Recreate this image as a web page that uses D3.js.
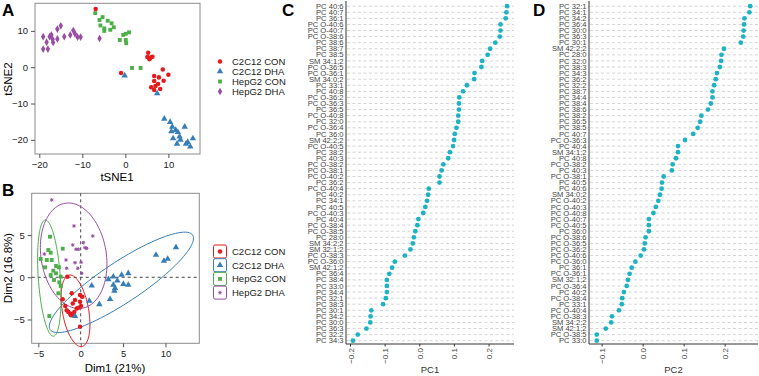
<!DOCTYPE html>
<html>
<head>
<meta charset="utf-8">
<script src="https://cdn.jsdelivr.net/npm/d3@7"></script>
<style>
  body { margin: 0; background: #fff; }
  svg { font-family: "Liberation Sans", Arial, sans-serif; }
</style>
</head>
<body>
<svg id="svg"></svg>
<script>
// groups + colours
const groups = ["C2C12 CON", "C2C12 DHA", "HepG2 CON", "HepG2 DHA"];
const colors = ["#E41A1C", "#377EB8", "#4DAF4A", "#984EA3"];

// panel A: tSNE coordinates [tSNE1, tSNE2]
const tsneC2C12CON = [[-6.9,16.0],[-1.0,-1.6],[5.3,4.0],[5.1,2.8],[5.9,2.7],[5.6,2.2],[6.3,2.9],
  [8.7,-0.6],[10.0,-2.1],[6.7,-2.4],[7.8,-2.8],[8.9,-3.7],[6.7,-3.8],[6.0,-5.5],[7.0,-5.2],[8.1,-6.0],[6.7,-6.3],[7.6,-4.6]];
const tsneC2C12DHA = [[-0.15,-2.3],[7.4,-7.2],[9.05,-14.2],[10.4,-15.1],[10.9,-16.4],[11.7,-17.3],[13.8,-16.4],
  [10.7,-17.7],[12.2,-17.9],[12.6,-19.1],[11.1,-19.6],[12.8,-20.0],[12.0,-21.1],[14.5,-20.6],[15.7,-19.6],[14.1,-21.1],[15.1,-21.9]];
const tsneHepG2CON = [[-7.0,14.9],[-6.0,13.0],[-5.3,13.8],[-5.8,11.5],[-4.9,10.7],[-4.9,10.0],[-4.1,12.8],[-3.2,12.1],
  [-2.7,11.0],[-3.5,10.3],[-0.5,8.9],[0.1,9.2],[0.85,9.6],[-1.3,7.5],[0.1,7.5],[0.2,6.6],[1.55,-0.2],[3.55,-0.2]];
const tsneHepG2DHA = [[-19.1,8.4],[-19.1,5.0],[-18.0,5.0],[-18.3,6.9],[-17.6,8.4],[-17.2,8.9],[-16.9,7.7],[-16.8,6.8],
  [-15.8,7.8],[-15.8,10.5],[-15.0,11.4],[-14.2,8.4],[-12.8,8.9],[-12.1,10.1],[-11.7,9.2],[-11.1,8.3],[-10.4,8.3],[-6.0,7.9]];
const tsneTicksX = [-20, -10, 0, 10];
const tsneTicksY = [-20, -10, 0, 10];

// panel B: PCA individuals [Dim1, Dim2]
const pcaC2C12CON = [[-1.58,0.07],[-1.06,-1.9],[-2.12,-2.6],[-0.94,-3.1],[-0.67,-2.7],[-0.08,-2.1],[0.19,-2.3],
  [-0.08,-2.9],[-0.28,-3.6],[0.04,-3.4],[-0.47,-3.7],[-1.65,-3.9],[-1.46,-4.1],[-1.26,-4.3],[-0.94,-4.35],
  [-1.14,-4.5],[-0.75,-4.1],[-0.08,-5.85],[-1.82,-3.4]];
const pcaC2C12DHA = [[11.24,3.55],[8.88,2.64],[9.82,1.93],[10.26,2.17],[5.61,0.47],[4.83,0.27],[3.85,0.07],[4.32,-0.4],
  [3.26,-0.24],[3.85,-0.9],[4.05,-1.3],[5.61,-0.9],[5.03,-0.8],[3.97,-1.6],[3.46,-2.6],[2.2,-3.2],[1.3,-1.0],
  [1.02,-2.8],[-0.67,-4.6]];
const pcaHepG2CON = [[-3.62,4.81],[-3.82,3.23],[-3.54,2.91],[-2.12,3.39],[-4.72,2.17],[-3.42,2.05],[-4.0,2.05],
  [-2.56,1.18],[-3.23,0.78],[-2.91,0.47],[-2.36,0.07],[-3.54,0.27],[-3.15,-0.32],[-2.52,-0.59],[-2.36,-1.03],
  [-2.64,-1.9],[-3.7,-4.59],[-4.21,1.18],[-2.91,1.34]];
const pcaHepG2DHA = [[-3.42,9.16],[-0.79,6.08],[1.42,4.89],[-0.94,3.83],[-0.55,3.32],[-0.28,3.32],[0.31,4.1],
  [0.51,3.51],[0.71,3.43],[-4.29,2.76],[-1.73,2.05],[-0.67,1.73],[0.04,1.78],[-0.35,1.07],[0.12,0.47],[-1.65,1.07]];
// confidence ellipses: centre, semi-axes, angle (deg)
const ellCx = [-0.61, 4.8, -3.7, -0.83];
const ellCy = [-3.97, -0.6, -0.1, 2.55];
const ellA = [4.3, 10.1, 6.9, 6.3];
const ellB = [1.55, 2.4, 1.3, 3.85];
const ellAngle = [100, 33.7, 94, 99];
const pcaTicksX = [-5, 0, 5, 10];
const pcaTicksY = [-5, 0, 5];

// panel C: PC1 loadings
const pc1Labels = ["PC 40:6","PC 40:7","PC 36:1","PC O-40:6","PC O-40:7","PC O-38:6","PC 38:6","PC 38:7","PC 38:5","SM 34:1;2",
  "PC O-36:5","PC O-36:1","SM 34:0;2","PC 33:1","PC 40:8","PC O-36:2","PC O-36:3","PC 36:5","PC O-40:8","PC 32:0",
  "PC O-36:4","PC 36:0","SM 42:2;2","PC O-40:5","PC 38:2","PC 40:3","PC O-38:2","PC O-38:1","PC O-40:2","PC 36:2",
  "PC O-40:4","PC 40:2","PC 34:1","PC 40:5","PC O-40:3","PC 40:4","PC O-38:4","PC O-38:5","PC 28:0","SM 34:2;2",
  "SM 32:1;2","PC O-38:3","PC O-36:0","SM 42:1;2","PC 36:4","PC 38:4","PC 33:0","PC 34:4","PC 32:1","PC 38:3",
  "PC 30:1","PC 34:2","PC 30:0","PC 36:3","PC 32:2","PC 34:3"];
const pc1Values = [0.252,0.250,0.248,0.233,0.233,0.231,0.218,0.203,0.196,0.180,
  0.178,0.158,0.157,0.136,0.125,0.114,0.113,0.113,0.111,0.111,
  0.106,0.101,0.099,0.096,0.087,0.082,0.068,0.063,0.057,0.057,
  0.026,0.024,0.021,0.016,0.010,-0.004,-0.007,-0.013,-0.017,-0.020,
  -0.027,-0.043,-0.072,-0.080,-0.088,-0.095,-0.095,-0.095,-0.098,-0.106,
  -0.140,-0.142,-0.143,-0.154,-0.179,-0.193];

// panel D: PC2 loadings
const pc2Labels = ["PC 32:1","PC 34:1","PC 34:2","PC 36:4","PC 30:0","PC 36:3","PC 30:1","SM 42:2;2","PC 28:0","PC 32:0",
  "PC 38:3","PC 34:3","PC 36:2","PC 32:2","PC 38:7","PC 34:4","PC 38:4","PC 38:6","PC 38:2","PC 36:5",
  "PC 38:5","PC 40:7","PC O-36:3","PC 40:4","SM 34:1;2","PC 40:8","PC O-38:2","PC 40:3","PC O-38:1","PC 40:5",
  "PC 40:6","SM 34:0;2","PC O-40:2","PC O-40:3","PC O-40:8","PC O-40:7","PC O-40:5","PC 36:0","PC O-38:6","PC O-36:5",
  "PC O-36:2","PC O-40:6","PC O-36:0","PC 36:1","PC O-36:1","SM 32:1;2","PC O-36:4","PC 40:2","PC O-38:4","PC 33:1",
  "PC O-40:4","PC O-38:3","SM 34:2;2","SM 42:1;2","PC O-38:5","PC 33:0"];
const pc2Values = [0.261,0.259,0.247,0.246,0.245,0.244,0.238,0.197,0.191,0.190,
  0.187,0.180,0.177,0.173,0.169,0.169,0.165,0.158,0.142,0.139,
  0.133,0.122,0.102,0.085,0.085,0.080,0.072,0.070,0.050,0.046,
  0.045,0.041,0.037,0.031,0.025,0.014,0.014,0.014,0.006,0.004,
  0.002,-0.006,-0.019,-0.028,-0.033,-0.037,-0.040,-0.047,-0.051,-0.052,
  -0.059,-0.076,-0.078,-0.091,-0.113,-0.113];
const loadTicks = [-0.2, -0.1, 0.0, 0.1, 0.2];

const w = 759, h = 376;
const svg = d3.select("#svg").attr("width", w).attr("height", h);

const symA = [d3.symbolCircle, d3.symbolTriangle, d3.symbolSquare, d3.symbolDiamond];
const symSize = [16, 18, 15, 17];

function panelLetter(t, x, y) {
  svg.append("text").attr("x", x).attr("y", y).attr("font-size", 17).attr("font-weight", "bold").text(t);
}

// ---------- panel A ----------
const xA = d3.scaleLinear().domain([-21, 17.35]).range([35, 200]);
const yA = d3.scaleLinear().domain([-23.9, 17.6]).range([154, 3.3]);
const gA = svg.append("g");
gA.append("rect").attr("x", 35).attr("y", 3.3).attr("width", 165).attr("height", 150.7)
  .attr("fill", "none").attr("stroke", "#8c8c8c").attr("stroke-width", 1);
gA.append("g").attr("transform", "translate(0,154)")
  .call(d3.axisBottom(xA).tickValues(tsneTicksX).tickSize(4).tickSizeOuter(0))
  .call(g => g.select(".domain").remove())
  .call(g => g.selectAll("line").attr("stroke", "#555"))
  .call(g => g.selectAll("text").attr("font-size", 9.5).attr("fill", "#222").attr("font-family", "Liberation Sans, Arial"));
gA.append("g").attr("transform", "translate(35,0)")
  .call(d3.axisLeft(yA).tickValues(tsneTicksY).tickSize(4).tickSizeOuter(0))
  .call(g => g.select(".domain").remove())
  .call(g => g.selectAll("line").attr("stroke", "#555"))
  .call(g => g.selectAll("text").attr("font-size", 9.5).attr("fill", "#222").attr("font-family", "Liberation Sans, Arial"));
gA.append("text").attr("x", 117).attr("y", 181).attr("text-anchor", "middle").attr("font-size", 11.5).text("tSNE1");
gA.append("text").attr("transform", "translate(12,79) rotate(-90)").attr("text-anchor", "middle")
  .attr("font-size", 11.5).text("tSNE2");

const tsneData = [tsneC2C12CON, tsneC2C12DHA, tsneHepG2CON, tsneHepG2DHA];
tsneData.forEach((pts, i) => {
  gA.selectAll(null).data(pts).enter().append("path")
    .attr("d", d3.symbol().type(symA[i]).size(symSize[i]))
    .attr("transform", d => `translate(${xA(d[0])},${yA(d[1])})`)
    .attr("fill", colors[i]);
});
groups.forEach((gname, i) => {
  const yy = 61.5 + i * 10;
  gA.append("path").attr("d", d3.symbol().type(symA[i]).size(symSize[i]))
    .attr("transform", `translate(220,${yy})`).attr("fill", colors[i]);
  gA.append("text").attr("x", 232).attr("y", yy + 3.3).attr("font-size", 9.5).attr("fill", "#222").text(gname);
});
panelLetter("A", 2, 16);

// ---------- panel B ----------
const xB = d3.scaleLinear().domain([-5.78, 13.99]).range([31.7, 199.3]);
const yB = d3.scaleLinear().domain([-7.82, 9.95]).range([343.3, 193.3]);
const gB = svg.append("g");
gB.append("rect").attr("x", 31.7).attr("y", 193.3).attr("width", 167.6).attr("height", 150)
  .attr("fill", "none").attr("stroke", "#8c8c8c").attr("stroke-width", 1);
gB.append("g").attr("transform", "translate(0,343.3)")
  .call(d3.axisBottom(xB).tickValues(pcaTicksX).tickSize(4).tickSizeOuter(0))
  .call(g => g.select(".domain").remove())
  .call(g => g.selectAll("line").attr("stroke", "#555"))
  .call(g => g.selectAll("text").attr("font-size", 9.5).attr("fill", "#222").attr("font-family", "Liberation Sans, Arial"));
gB.append("g").attr("transform", "translate(31.7,0)")
  .call(d3.axisLeft(yB).tickValues(pcaTicksY).tickSize(4).tickSizeOuter(0))
  .call(g => g.select(".domain").remove())
  .call(g => g.selectAll("line").attr("stroke", "#555"))
  .call(g => g.selectAll("text").attr("font-size", 9.5).attr("fill", "#222").attr("font-family", "Liberation Sans, Arial"));
gB.append("line").attr("x1", xB(0)).attr("x2", xB(0)).attr("y1", 193.3).attr("y2", 343.3)
  .attr("stroke", "#444").attr("stroke-dasharray", "3,3");
gB.append("line").attr("x1", 31.7).attr("x2", 199.3).attr("y1", yB(0)).attr("y2", yB(0))
  .attr("stroke", "#444").attr("stroke-dasharray", "3,3");
gB.append("text").attr("x", 115).attr("y", 372).attr("text-anchor", "middle").attr("font-size", 11.5).text("Dim1 (21%)");
gB.append("text").attr("transform", "translate(12,268) rotate(-90)").attr("text-anchor", "middle")
  .attr("font-size", 11.5).text("Dim2 (16.8%)");

const ellLine = d3.line().x(d => xB(d[0])).y(d => yB(d[1]));
groups.forEach((gname, i) => {
  const th = ellAngle[i] * Math.PI / 180;
  const pts = d3.range(0, 101).map(k => {
    const t = k / 100 * 2 * Math.PI;
    return [ellCx[i] + ellA[i] * Math.cos(th) * Math.cos(t) - ellB[i] * Math.sin(th) * Math.sin(t),
            ellCy[i] + ellA[i] * Math.sin(th) * Math.cos(t) + ellB[i] * Math.cos(th) * Math.sin(t)];
  });
  gB.append("path").attr("d", ellLine(pts)).attr("fill", "none").attr("stroke", colors[i]).attr("stroke-width", 1);
});

const plusPath = "M-1.8,0H1.8M0,-1.8V1.8M-1.3,-1.3L1.3,1.3M-1.3,1.3L1.3,-1.3";
const pcaData = [pcaC2C12CON, pcaC2C12DHA, pcaHepG2CON, pcaHepG2DHA];
function drawB(sel, i) {
  if (i === 3) {
    sel.attr("d", plusPath).attr("stroke", colors[i]).attr("stroke-width", 1).attr("fill", "none");
  } else {
    sel.attr("d", d3.symbol().type(symA[i]).size(symSize[i])).attr("fill", colors[i]);
  }
}
pcaData.forEach((pts, i) => {
  gB.selectAll(null).data(pts).enter().append("path")
    .attr("transform", d => `translate(${xB(d[0])},${yB(d[1])})`)
    .call(drawB, i);
});
groups.forEach((gname, i) => {
  const yy = 251.5 + i * 13.7;
  gB.append("rect").attr("x", 213.5).attr("y", yy - 6.5).attr("width", 13).attr("height", 13).attr("rx", 1.5)
    .attr("fill", "#fff").attr("stroke", colors[i]).attr("stroke-width", 1);
  gB.append("path").attr("transform", `translate(220,${yy})`).call(drawB, i);
  gB.append("text").attr("x", 232).attr("y", yy + 3.3).attr("font-size", 9.5).attr("fill", "#222").text(gname);
});
panelLetter("B", 2, 196);

// ---------- panels C and D ----------
function loadingPanel(labels, values, x0, x1, dom, title, letter, letterX) {
  const g = svg.append("g");
  const x = d3.scaleLinear().domain(dom).range([x0, x1]);
  const y = d3.scalePoint().domain(labels).range([6.2, 340.7]);
  g.selectAll(".grid").data(labels).enter().append("line")
    .attr("x1", x0 + 1).attr("x2", x1).attr("y1", d => y(d)).attr("y2", d => y(d))
    .attr("stroke", "#c9c9c9").attr("stroke-width", 0.8).attr("stroke-dasharray", "3,2.5");
  g.selectAll(".lab").data(labels).enter().append("text")
    .attr("x", x0 - 2.5).attr("y", d => y(d) + 2.6).attr("text-anchor", "end")
    .attr("font-size", 7.6).attr("fill", "#444").text(d => d);
  g.append("line").attr("x1", x0).attr("x2", x0).attr("y1", 1).attr("y2", 344).attr("stroke", "#333").attr("stroke-width", 1);
  g.append("line").attr("x1", x0).attr("x2", x1).attr("y1", 344).attr("y2", 344).attr("stroke", "#333").attr("stroke-width", 1);
  const ticks = loadTicks.filter(t => x(t) >= x0 && x(t) <= x1);
  g.selectAll(".tk").data(ticks).enter().append("line")
    .attr("x1", d => x(d)).attr("x2", d => x(d)).attr("y1", 344).attr("y2", 346.5).attr("stroke", "#333");
  g.selectAll(".tl").data(ticks).enter().append("text")
    .attr("transform", d => `translate(${x(d) + 3},348) rotate(-90)`).attr("text-anchor", "end")
    .attr("font-size", 8).attr("fill", "#444").text(d => d3.format(".1f")(d));
  g.selectAll(".dot").data(values).enter().append("circle")
    .attr("cx", d => x(d)).attr("cy", (d, i) => y(labels[i])).attr("r", 2.4).attr("fill", "#1DB3C2");
  g.append("text").attr("x", (x0 + x1) / 2).attr("y", 373).attr("text-anchor", "middle")
    .attr("font-size", 9.5).attr("fill", "#333").text(title);
  panelLetter(letter, letterX, 16);
}
loadingPanel(pc1Labels, pc1Values, 346, 514, [-0.213, 0.272], "PC1", "C", 282);
loadingPanel(pc2Labels, pc2Values, 589, 758, [-0.132, 0.28], "PC2", "D", 533);
</script>
</body>
</html>
